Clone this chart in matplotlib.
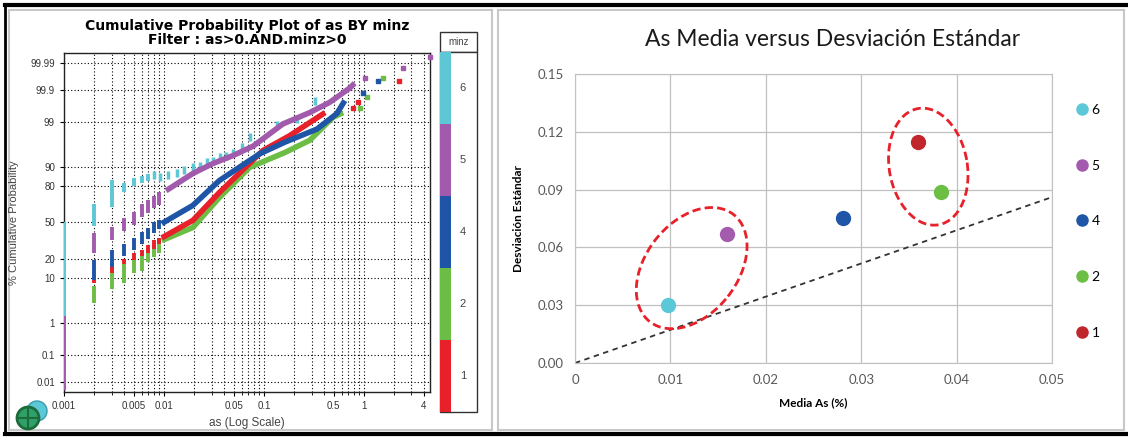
import numpy as np
import matplotlib
matplotlib.use("Agg")
import matplotlib.pyplot as plt
from matplotlib.patches import Rectangle, Circle, Ellipse
from matplotlib.transforms import ScaledTranslation
from matplotlib.ticker import FixedLocator, FixedFormatter, LogLocator, NullFormatter
from statistics import NormalDist

# ---------------- data: left panel (cumulative probability, % vs as) ----------------
# tied low values drawn as vertical bars: x, lower %, upper %
cy_step_x = [0.001, 0.002, 0.003, 0.004, 0.005, 0.006, 0.007]
cy_step_lo = [0.005, 47, 64, 76, 80, 82, 83]
cy_step_hi = [50, 67, 84, 82, 85, 86, 87]
cy_pts_x = [0.008, 0.0091, 0.011, 0.0135, 0.016, 0.0195, 0.023, 0.027, 0.031, 0.036, 0.042, 0.049, 0.06, 0.072, 0.135, 0.214, 0.324]
cy_pts_p = [86.5, 85.3, 86.5, 87.7, 89, 90, 90.5, 91.9, 92.5, 93.5, 94, 94.8, 96, 97.6, 98.8, 99.2, 99.77]

pu_step_x = [0.001, 0.002, 0.003, 0.004, 0.005, 0.006, 0.007, 0.008, 0.009]
pu_step_lo = [0.005, 24, 34, 42, 48, 55, 59, 63, 66]
pu_step_hi = [1.5, 40, 46, 54, 60, 67, 70, 73, 76]
pu_curve_x = [0.0105, 0.0195, 0.031, 0.049, 0.078, 0.155, 0.288, 0.457, 0.72, 0.81]
pu_curve_p = [77, 87.3, 91.5, 94, 96.2, 98.9, 99.47, 99.74, 99.91, 99.94]
pu_tail_x = [1.02, 2.45, 4.57]
pu_tail_p = [99.96, 99.983, 99.994]

bl_step_x = [0.002, 0.003, 0.004, 0.005, 0.006, 0.007, 0.008, 0.009]
bl_step_lo = [9, 15, 22, 26, 31, 35, 40, 44]
bl_step_hi = [19, 26, 31, 36, 41, 45, 50, 52]
bl_curve_x = [0.0095, 0.0195, 0.036, 0.091, 0.162, 0.339, 0.537, 0.646]
bl_curve_p = [49, 65.5, 83.6, 94.5, 96.9, 98.5, 99.43, 99.77]
bl_tail_x = [0.977, 1.38]
bl_tail_p = [99.865, 99.95]

rd_step_x = [0.002, 0.003, 0.004, 0.005, 0.006, 0.007, 0.008, 0.009]
rd_step_lo = [8, 12, 17, 19, 22, 24, 27, 31]
rd_step_hi = [9, 15, 20, 24, 26, 30, 34, 36]
rd_curve_x = [0.0095, 0.0195, 0.036, 0.098, 0.18, 0.41]
rd_curve_p = [36, 52, 75.8, 95.3, 97.8, 99.47]
rd_tail_x = [0.78, 0.87, 2.24]
rd_tail_p = [99.6, 99.74, 99.95]

gr_step_x = [0.002, 0.003, 0.004, 0.005, 0.006, 0.007, 0.008, 0.009]
gr_step_lo = [3, 6.2, 8, 12, 13, 18, 21, 24]
gr_step_hi = [7, 15, 17, 21, 26, 28, 32, 34]
gr_curve_x = [0.0095, 0.0195, 0.036, 0.072, 0.162, 0.288, 0.49, 0.62]
gr_curve_p = [33.7, 45.4, 72, 90, 94.8, 97.2, 99.27, 99.47]
gr_tail_x = [0.91, 1.07, 1.55]
gr_tail_p = [99.62, 99.82, 99.96]

minz_codes = ['6', '5', '4', '2', '1']
minz_colors = ['#5DC7D6', '#A25AAD', '#1F55A6', '#6BBD45', '#E8202A']

left_yticks = [0.01, 0.1, 1, 10, 20, 50, 80, 90, 99, 99.9, 99.99]
left_ylabels = ['0.01', '0.1', '1', '10', '20', '50', '80', '90', '99', '99.9', '99.99']
left_xticks = [0.001, 0.005, 0.01, 0.05, 0.1, 0.5, 1, 4]
left_xlabels = ['0.001', '0.005', '0.01', '0.05', '0.1', '0.5', '1', '4']

# ---------------- data: right panel (mean vs std dev) ----------------
grp_labels = ['6', '5', '4', '2', '1']
mean_as = [0.00976, 0.01596, 0.02812, 0.03833, 0.03599]
std_as = [0.0302, 0.0671, 0.0752, 0.0885, 0.1149]
grp_colors = ['#5BC8D8', '#A45BAE', '#1F56A8', '#6DBE45', '#C0272D']
ref_x = [0, 0.05]
ref_y = [0, 0.0861]
right_xticks = [0, 0.01, 0.02, 0.03, 0.04, 0.05]
right_xlabels = ['0', '0.01', '0.02', '0.03', '0.04', '0.05']
right_yticks = [0.0, 0.03, 0.06, 0.09, 0.12, 0.15]
right_ylabels = ['0.00', '0.03', '0.06', '0.09', '0.12', '0.15']

W, H = 1128, 437
fig = plt.figure(figsize=(W / 100, H / 100), dpi=100)

# decoration layer in pixel coords (frames, logo, side legend)
deco = fig.add_axes([0, 0, 1, 1])
deco.set_xlim(0, W)
deco.set_ylim(H, 0)
deco.axis('off')
deco.add_patch(Rectangle((9, 10), 483, 420, fill=False, ec='#C8C8C8', lw=1.5))
deco.add_patch(Rectangle((498, 10), 626, 420, fill=False, ec='#C8C8C8', lw=1.5))
deco.plot([5, W], [5, 5], color='k', lw=3)
deco.plot([5, W], [434, 434], color='k', lw=3)
deco.plot([5, 5], [5, 434], color='k', lw=2)

# logo
deco.add_patch(Circle((37, 411), 10, fc='#5BC8D8', ec='#3A9AA8', lw=1))
deco.add_patch(Circle((28, 418), 11, fc='#2FA06A', ec='#1E6B3A', lw=2))
deco.plot([28, 28], [408, 428], color='#1E6B3A', lw=1.5)
deco.plot([18, 38], [418, 418], color='#1E6B3A', lw=1.5)

# minz side legend
deco.add_patch(Rectangle((440, 32), 37, 20, fc='white', ec='#333333', lw=1))
deco.text(458.5, 42, 'minz', ha='center', va='center', fontsize=7, color='#444444',
          family='Liberation Sans')
deco.add_patch(Rectangle((440, 52), 37, 360, fc='white', ec='#333333', lw=1))
seg = 360 / len(minz_codes)
for i, (code, col) in enumerate(zip(minz_codes, minz_colors)):
    y0 = 52 + i * seg
    deco.add_patch(Rectangle((440, y0), 11, seg, fc=col, ec='none'))
    deco.text(463, y0 + seg / 2, code, ha='center', va='center', fontsize=8,
              color='#444444', family='Liberation Sans')

# ---------------- left panel ----------------
nd = NormalDist()
p_to_z = np.vectorize(lambda v: nd.inv_cdf(min(max(v, 1e-9), 100 - 1e-9) / 100.0), otypes=[float])
z_to_p = np.vectorize(lambda v: 100.0 * nd.cdf(v), otypes=[float])

ax1 = fig.add_axes([64 / W, 1 - 392 / H, (430 - 64) / W, (392 - 53) / H])
ax1.set_xscale('log')
ax1.set_yscale('function', functions=(p_to_z, z_to_p))
ax1.set_xlim(0.001, 4.6)
ax1.set_ylim(float(z_to_p(-3.94)), float(z_to_p(3.94)))

groups = [
    (gr_step_x, gr_step_lo, gr_step_hi, gr_curve_x, gr_curve_p, gr_tail_x, gr_tail_p, minz_colors[3]),
    (rd_step_x, rd_step_lo, rd_step_hi, rd_curve_x, rd_curve_p, rd_tail_x, rd_tail_p, minz_colors[4]),
    (bl_step_x, bl_step_lo, bl_step_hi, bl_curve_x, bl_curve_p, bl_tail_x, bl_tail_p, minz_colors[2]),
]
ax1.vlines(cy_step_x, cy_step_lo, cy_step_hi, color=minz_colors[0], lw=2.8, zorder=3)
for sx, slo, shi, cx, cp, tx, tp, col in groups:
    ax1.vlines(sx, slo, shi, color=col, lw=2.8, zorder=3)
    ax1.plot(cx, cp, color=col, lw=4, solid_capstyle='butt', zorder=3)
    ax1.plot(tx, tp, 's', color=col, ms=3, zorder=3)
ax1.plot(cy_pts_x, cy_pts_p, '|', color=minz_colors[0], ms=6, mew=2.5, zorder=3)
ax1.vlines(pu_step_x, pu_step_lo, pu_step_hi, color=minz_colors[1], lw=2.8, zorder=4)
ax1.plot(pu_curve_x, pu_curve_p, color=minz_colors[1], lw=4, solid_capstyle='butt', zorder=4)
ax1.plot(pu_tail_x, pu_tail_p, 's', color=minz_colors[1], ms=3, zorder=4, clip_on=False)

ax1.yaxis.set_major_locator(FixedLocator(left_yticks))
ax1.yaxis.set_major_formatter(FixedFormatter(left_ylabels))
ax1.yaxis.set_minor_locator(FixedLocator([]))
ax1.xaxis.set_major_locator(FixedLocator(left_xticks))
ax1.xaxis.set_major_formatter(FixedFormatter(left_xlabels))
ax1.xaxis.set_minor_locator(LogLocator(base=10, subs=np.arange(1, 10)))
ax1.xaxis.set_minor_formatter(NullFormatter())
ax1.grid(True, which='both', axis='x', color='k', ls=(0, (1, 2)), lw=0.8)
ax1.grid(True, which='major', axis='y', color='k', ls=(0, (1, 2)), lw=0.8)
ax1.tick_params(axis='both', which='major', labelsize=7, labelcolor='#333333', length=3, width=0.8)
ax1.tick_params(axis='x', which='minor', length=2, width=0.6)
for lab in ax1.get_xticklabels() + ax1.get_yticklabels():
    lab.set_family('Liberation Sans')
for s in ax1.spines.values():
    s.set_color('#222222')
    s.set_linewidth(1)
ax1.set_xlabel('as (Log Scale)', fontsize=8.5, color='#444444', family='Liberation Sans', labelpad=4)
ax1.set_ylabel('% Cumulative Probability', fontsize=8, color='#444444', family='Liberation Sans', labelpad=8)
fig.text(247 / W, 1 - 33 / H, 'Cumulative Probability Plot of as BY minz\nFilter : as>0.AND.minz>0',
         ha='center', va='center', fontsize=10, fontweight='bold', family='DejaVu Sans',
         linespacing=1.0)

# ---------------- right panel ----------------
ax2 = fig.add_axes([575 / W, 1 - 363 / H, (1052 - 575) / W, (363 - 74) / H])
ax2.set_xlim(0, 0.05)
ax2.set_ylim(0, 0.15)
ax2.plot(ref_x, ref_y, color='#333333', ls=(0, (3, 2.5)), lw=1.3, zorder=2)
for mx, sy, lab, col in zip(mean_as, std_as, grp_labels, grp_colors):
    ax2.plot(mx, sy, 'o', color=col, ms=10, label=lab, zorder=3)

# highlight rings drawn in inches around data-space centres
ring_cx = [0.01223, 0.03703]
ring_cy = [0.04925, 0.1019]
ring_w = [1.36, 1.18]
ring_h = [0.92, 0.78]
ring_ang = [52, 100]
for cx, cy, w, h, a in zip(ring_cx, ring_cy, ring_w, ring_h, ring_ang):
    tr = fig.dpi_scale_trans + ScaledTranslation(cx, cy, ax2.transData)
    ax2.add_patch(Ellipse((0, 0), w, h, angle=a, transform=tr, fill=False,
                          ec='#E8202A', lw=2, ls=(0, (3, 1.5)), zorder=4))

ax2.xaxis.set_major_locator(FixedLocator(right_xticks))
ax2.xaxis.set_major_formatter(FixedFormatter(right_xlabels))
ax2.yaxis.set_major_locator(FixedLocator(right_yticks))
ax2.yaxis.set_major_formatter(FixedFormatter(right_ylabels))
ax2.grid(True, color='#C0C0C0', lw=0.9)
ax2.set_axisbelow(True)
ax2.tick_params(length=0, labelsize=9.5, labelcolor='#595959', pad=8)
for lab in ax2.get_xticklabels() + ax2.get_yticklabels():
    lab.set_family('Lato')
for s in ax2.spines.values():
    s.set_color('#C0C0C0')
ax2.set_xlabel('Media As (%)', fontsize=8.5, fontweight='bold', family='Lato', labelpad=8)
ax2.set_ylabel('Desviación Estándar', fontsize=8.5, fontweight='bold', family='Lato', labelpad=10)
fig.text(833 / W, 1 - 40 / H, 'As Media versus Desviación Estándar', ha='center', va='center',
         fontsize=16.5, family='Lato', color='#1A1A1A')
leg = ax2.legend(loc='upper left', bbox_to_anchor=(1.022, 0.94), frameon=False, labelspacing=3.15,
                 handlelength=1.0, handletextpad=0.2, markerscale=0.8,
                 prop={'family': 'Lato', 'size': 10})

fig.savefig('out.png', dpi=100)
